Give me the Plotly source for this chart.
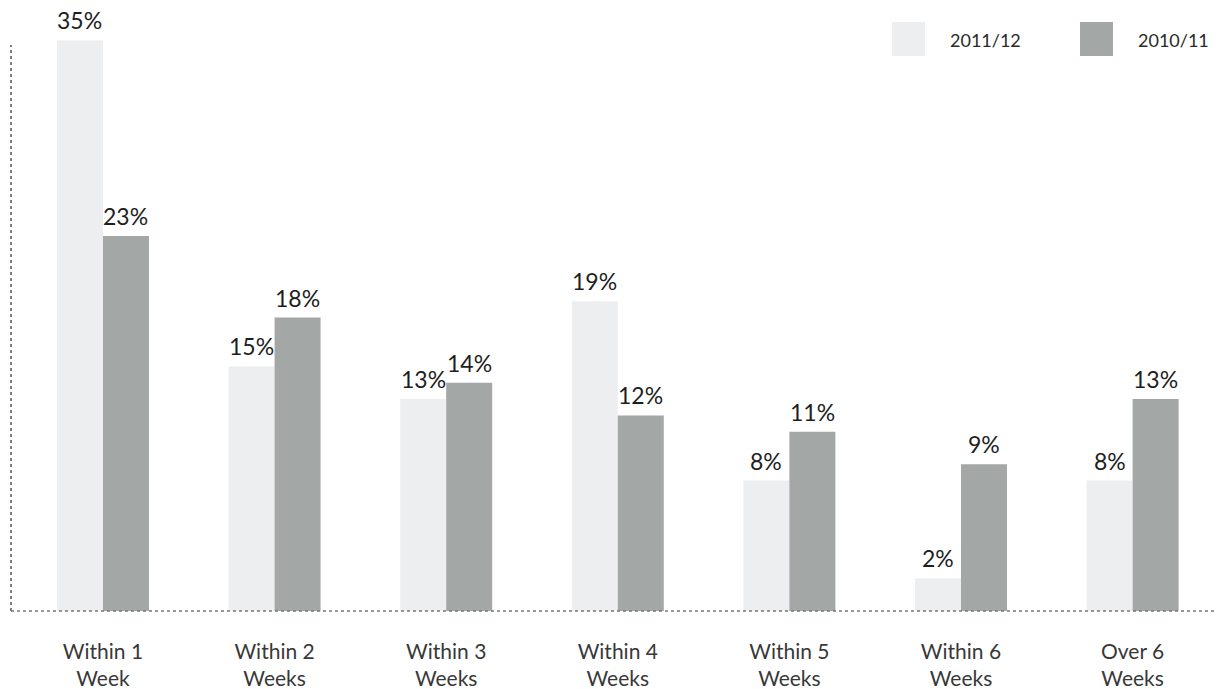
import plotly.graph_objects as go

categories = ["Within 1<br>Week", "Within 2<br>Weeks", "Within 3<br>Weeks", "Within 4<br>Weeks",
              "Within 5<br>Weeks", "Within 6<br>Weeks", "Over 6<br>Weeks"]
series_names = ["2011/12", "2010/11"]
values_2011_12 = [35, 15, 13, 19, 8, 2, 8]
values_2010_11 = [23, 18, 14, 12, 11, 9, 13]

colors = ["#eceef0", "#a3a7a5"]
FONT = "Lato"
Y_TOP = 36.44

fig = go.Figure()
for name, vals, col in zip(series_names, [values_2011_12, values_2010_11], colors):
    fig.add_trace(go.Bar(
        x=categories, y=vals, name=name, marker=dict(color=col, line=dict(width=0)),
        cliponaxis=False,
    ))

# value labels above each bar, a little above the bar top
bar_px = 46
for vals, xs in zip([values_2011_12, values_2010_11], [-bar_px / 2, bar_px / 2]):
    for cat, v in zip(categories, vals):
        fig.add_annotation(x=cat, y=v, text=f"{v}%", showarrow=False, xshift=xs, yshift=4,
                           yanchor="bottom", xanchor="center",
                           font=dict(family=FONT, size=23, color="#1e1e1e"))

fig.update_layout(
    width=1216, height=689,
    margin=dict(l=11, r=0, t=17, b=78, autoexpand=False),
    paper_bgcolor="white", plot_bgcolor="white",
    barmode="group", bargap=0.464, bargroupgap=0,
    showlegend=False,
    font=dict(family=FONT, color="#333333"),
    xaxis=dict(range=[-0.536, 6.486], showgrid=False, showline=False, zeroline=False,
               tickfont=dict(family=FONT, size=21, color="#383838"), ticks="",
               ticklabelstandoff=26, automargin=False),
    yaxis=dict(range=[0, Y_TOP], showgrid=False, showline=False, zeroline=False,
               showticklabels=False, ticks="", automargin=False),
)

# axis lines (dotted, like the print)
fig.add_shape(type="line", xref="paper", yref="paper", x0=0, x1=0, y0=0, y1=(611 - 45) / 594,
              line=dict(color="#555555", width=1.5, dash="dot"))
fig.add_shape(type="line", xref="paper", yref="paper", x0=0, x1=1, y0=0, y1=0,
              line=dict(color="#777777", width=1.5, dash="dot"))

# custom legend with large swatches
legend_x = [892, 1080]
for name, col, lx in zip(series_names, colors, legend_x):
    fig.add_shape(type="rect", xref="paper", yref="paper",
                  x0=(lx - 11) / 1205, x1=(lx + 33 - 11) / 1205,
                  y0=(611 - 56) / 594, y1=(611 - 22) / 594,
                  line=dict(width=0), fillcolor=col)
    fig.add_annotation(xref="paper", yref="paper", x=(lx + 56 - 11) / 1205, y=(611 - 40) / 594,
                       text=name, showarrow=False, xanchor="left", yanchor="middle",
                       font=dict(family=FONT, size=18, color="#2a2a2a"))

fig.write_html("out.html")
